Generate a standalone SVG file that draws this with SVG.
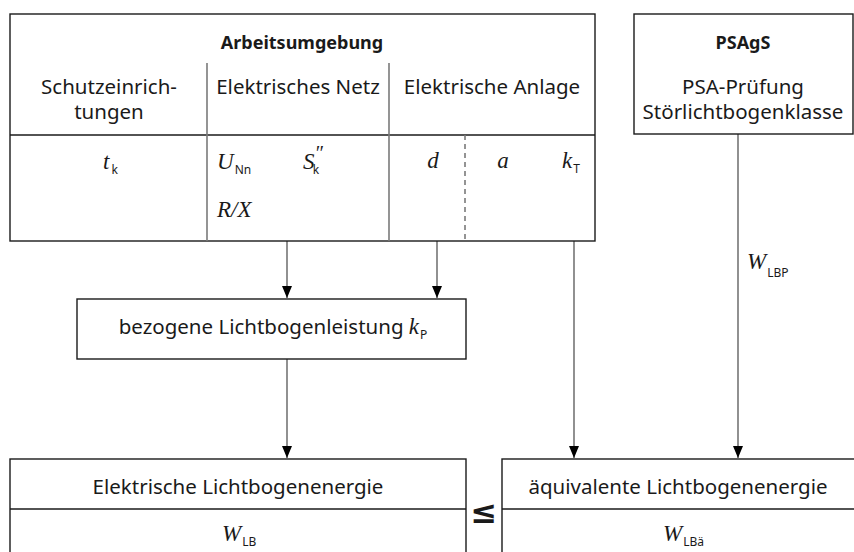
<svg xmlns="http://www.w3.org/2000/svg" width="854" height="552" viewBox="0 0 854 552">
<defs>
<style>
.box{fill:#fff;stroke:#1a1a1a;stroke-width:1.4}
.sep{stroke:#1a1a1a;stroke-width:1.3;fill:none}
.div{stroke:#7a7a7a;stroke-width:1.6;fill:none}
.dash{stroke:#7a7a7a;stroke-width:1.6;fill:none;stroke-dasharray:5,4}
.con{stroke:#555;stroke-width:1.3;fill:none}
.t{font-family:"Noto Sans","Open Sans",sans-serif;font-size:20.5px;fill:#1a1a1a;text-anchor:middle}
.b{font-weight:bold;font-size:18px}
.m{font-family:"Liberation Serif","DejaVu Serif",serif;font-style:italic;font-size:23px;fill:#1a1a1a}
.s{font-family:"Noto Sans","Open Sans",sans-serif;font-style:normal;font-size:12px;fill:#1a1a1a}
</style>
<marker id="ah" markerWidth="12" markerHeight="10" refX="12" refY="5" orient="auto" markerUnits="userSpaceOnUse" viewBox="0 0 12 10">
<path d="M0,0 L12,5 L0,10 Z" fill="#000"/>
</marker>
</defs>

<g id="connectors">
<line class="con" x1="287" y1="241" x2="287" y2="298" marker-end="url(#ah)"/>
<line class="con" x1="437" y1="241" x2="437" y2="298" marker-end="url(#ah)"/>
<line class="con" x1="287" y1="359" x2="287" y2="458" marker-end="url(#ah)"/>
<line class="con" x1="574" y1="241" x2="574" y2="458" marker-end="url(#ah)"/>
<line class="con" x1="738" y1="134" x2="738" y2="458" marker-end="url(#ah)"/>
<text class="m" x="747" y="269">W<tspan class="s" dx="1" dy="8">LBP</tspan></text>
</g>

<g id="arbeitsumgebung">
<rect class="box" x="10" y="14" width="585" height="227"/>
<line class="sep" x1="10" y1="135" x2="595" y2="135"/>
<line class="div" x1="207" y1="63" x2="207" y2="241"/>
<line class="div" x1="389" y1="63" x2="389" y2="241"/>
<line class="dash" x1="465" y1="135" x2="465" y2="241"/>
<text class="t b" x="302" y="49">Arbeitsumgebung</text>
<text class="t" x="109" y="94">Schutzeinrich-<tspan x="109" dy="25">tungen</tspan></text>
<text class="t" x="298" y="94">Elektrisches Netz</text>
<text class="t" x="492" y="94">Elektrische Anlage</text>
<text class="m" x="103" y="169">t<tspan class="s" dx="2" dy="5">k</tspan></text>
<text class="m" x="217" y="169">U<tspan class="s" dx="1" dy="5">Nn</tspan></text>
<text class="m" x="303" y="169">S<tspan dx="0" dy="-9" font-size="20">″</tspan><tspan class="s" dx="-10" dy="14">k</tspan></text>
<text class="m" x="217" y="217">R/X</text>
<text class="m" x="433" y="168" text-anchor="middle">d</text>
<text class="m" x="503" y="168" text-anchor="middle">a</text>
<text class="m" x="562" y="168">k<tspan class="s" dx="1" dy="5">T</tspan></text>
</g>

<g id="psags">
<rect class="box" x="634" y="14" width="219" height="120"/>
<text class="t b" x="743" y="49">PSAgS</text>
<text class="t" x="743" y="94">PSA-Prüfung<tspan x="743" dy="25">Störlichtbogenklasse</tspan></text>
</g>

<g id="kp">
<rect class="box" x="77" y="299" width="389" height="60"/>
<text class="t" x="273" y="334">bezogene Lichtbogenleistung <tspan class="m">k</tspan><tspan class="s" dx="1" dy="5">P</tspan></text>
</g>

<g id="wlb">
<rect class="box" x="10" y="459" width="456" height="110"/>
<line class="sep" x1="10" y1="509" x2="466" y2="509"/>
<text class="t" x="238" y="494">Elektrische Lichtbogenenergie</text>
<text class="m" x="222" y="541">W<tspan class="s" dx="1" dy="5">LB</tspan></text>
</g>

<g id="le">
<text x="484" y="523" font-family="DejaVu Sans,sans-serif" font-size="32" font-weight="bold" text-anchor="middle" fill="#1a1a1a">≤</text>
</g>

<g id="wlba">
<rect class="box" x="502" y="459" width="360" height="110"/>
<line class="sep" x1="502" y1="509" x2="854" y2="509"/>
<text class="t" x="678" y="494">äquivalente Lichtbogenenergie</text>
<text class="m" x="663" y="541">W<tspan class="s" dx="1" dy="5">LBä</tspan></text>
</g>
</svg>
